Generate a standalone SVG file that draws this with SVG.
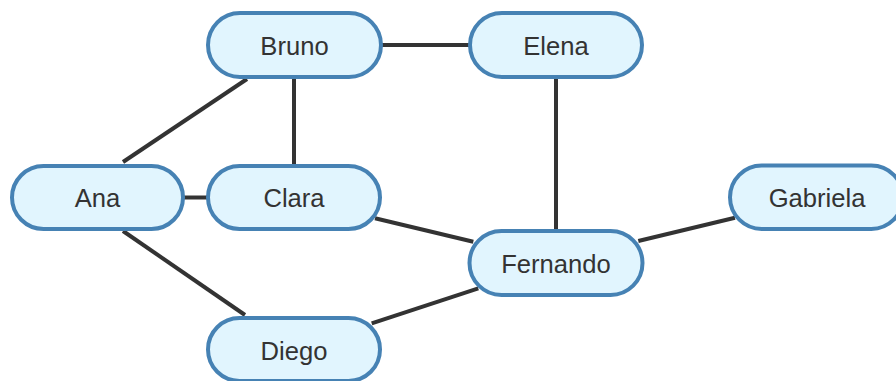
<svg xmlns="http://www.w3.org/2000/svg" width="896" height="381" viewBox="0 0 896 381">
<style>
.node rect{fill:#e1f5fe;stroke:#4682b4;stroke-width:4}
.node text{font-family:"Liberation Sans",Arial,sans-serif;font-size:25.6px;fill:#333;text-anchor:middle}
.edges line{stroke:#333;stroke-width:4}
</style>
<rect width="896" height="381" fill="#ffffff"/>
<g id="edges" class="edges">
<line x1="380" y1="45" x2="470" y2="45"/>
<line x1="294" y1="76" x2="294" y2="167"/>
<line x1="247" y1="79" x2="123" y2="162"/>
<line x1="123" y1="231" x2="245" y2="315"/>
<line x1="183" y1="197.5" x2="208" y2="197.5"/>
<line x1="375" y1="218.3" x2="473.3" y2="241.7"/>
<line x1="478.3" y1="288.3" x2="371.7" y2="323.3"/>
<line x1="638.3" y1="241" x2="735" y2="217.7"/>
<line x1="556" y1="76" x2="556" y2="232"/>
</g>
<g id="node-bruno" class="node"><rect x="208" y="13" width="173" height="64" rx="32"/><text x="294.5" y="54.5">Bruno</text></g>
<g id="node-elena" class="node"><rect x="470" y="13" width="172" height="64" rx="32"/><text x="556" y="54.5">Elena</text></g>
<g id="node-ana" class="node"><rect x="12" y="166" width="171" height="63" rx="31.5"/><text x="97.5" y="207">Ana</text></g>
<g id="node-clara" class="node"><rect x="208" y="166" width="172" height="63" rx="31.5"/><text x="294" y="207">Clara</text></g>
<g id="node-gabriela" class="node"><rect x="730" y="165.5" width="173" height="63.5" rx="31.75"/><text x="817" y="207">Gabriela</text></g>
<g id="node-fernando" class="node"><rect x="469.5" y="231" width="173" height="64" rx="32"/><text x="556" y="272.5">Fernando</text></g>
<g id="node-diego" class="node"><rect x="208" y="318" width="172" height="63" rx="31.5"/><text x="294" y="360">Diego</text></g>
</svg>
